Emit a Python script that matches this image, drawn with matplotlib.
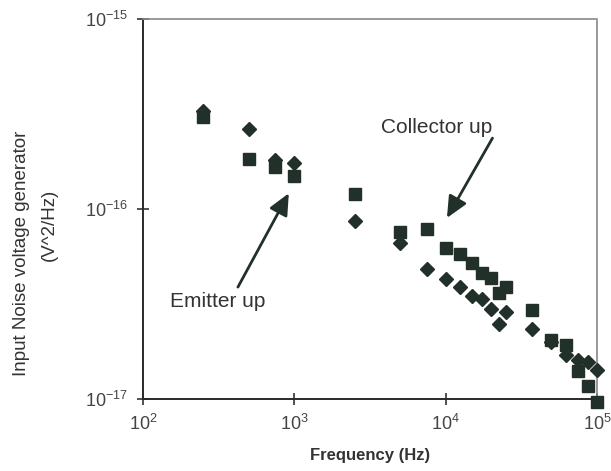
import matplotlib
matplotlib.use("Agg")
import matplotlib.pyplot as plt
from matplotlib.ticker import NullLocator

plt.rcParams['font.family'] = ['Liberation Sans', 'DejaVu Sans']
plt.rcParams['mathtext.default'] = 'regular'

freq = [250, 500, 750, 1000, 2500, 5000, 7500, 10000, 12500, 15000, 17500,
        20000, 22500, 25000, 37500, 50000, 62500, 75000, 87500, 100000]
emitter_up = [3.28e-16, 2.64e-16, 1.81e-16, 1.75e-16, 8.65e-17, 6.62e-17, 4.83e-17,
              4.28e-17, 3.89e-17, 3.48e-17, 3.36e-17, 2.98e-17, 2.48e-17, 2.87e-17,
              2.33e-17, 2.0e-17, 1.70e-17, 1.60e-17, 1.56e-17, 1.42e-17]
collector_up = [3.05e-16, 1.83e-16, 1.66e-16, 1.49e-16, 1.20e-16, 7.57e-17, 7.85e-17,
                6.23e-17, 5.80e-17, 5.20e-17, 4.61e-17, 4.34e-17, 3.61e-17, 3.89e-17,
                2.94e-17, 2.05e-17, 1.92e-17, 1.40e-17, 1.17e-17, 9.64e-18]
x_ticks = [1e2, 1e3, 1e4, 1e5]
y_ticks = [1e-17, 1e-16, 1e-15]

color = '#22302a'

fig = plt.figure(figsize=(6.11, 4.71), dpi=100)
ax = fig.add_axes([0.234, 0.1529, 0.743, 0.8068])
ax.set_xscale('log')
ax.set_yscale('log')
ax.set_xlim(1e2, 1e5)
ax.set_ylim(1e-17, 1e-15)

ax.plot(freq, collector_up, linestyle='none', marker='s', markersize=8.5,
        color=color, clip_on=False, zorder=3)
ax.plot(freq, emitter_up, linestyle='none', marker='D', markersize=7.5,
        color=color, clip_on=False, zorder=3)

ax.set_xticks(x_ticks)
ax.set_yticks(y_ticks)
ax.xaxis.set_minor_locator(NullLocator())
ax.yaxis.set_minor_locator(NullLocator())
ax.set_xticklabels([r'$10^{2}$', r'$10^{3}$', r'$10^{4}$', r'$10^{5}$'])
ax.set_yticklabels([r'$10^{-17}$', r'$10^{-16}$', r'$10^{-15}$'])
ax.tick_params(axis='both', which='major', direction='inout', length=9, width=1.2,
               labelsize=13, colors='#333333', labelcolor='#444444')
ax.tick_params(axis='x', pad=6)
ax.tick_params(axis='y', pad=6)

for s in ['left', 'bottom']:
    ax.spines[s].set_linewidth(1.4)
    ax.spines[s].set_color('#2a2a2a')
for s in ['top', 'right']:
    ax.spines[s].set_linewidth(1.2)
    ax.spines[s].set_color('#888888')
    ax.spines[s].set_linestyle((0, (1, 1)))

ax.set_xlabel('Frequency (Hz)', fontsize=12, fontweight='bold', color='#333333', labelpad=10)

fig.text(0.036, 0.462, 'Input Noise voltage generator', rotation=90, fontsize=13.5,
         color='#333333', ha='center', va='center')
fig.text(0.080, 0.522, '(V^2/Hz)', rotation=90, fontsize=13.5,
         color='#333333', ha='center', va='center')

arrow_style = dict(arrowstyle='-|>,head_length=1.3,head_width=0.6',
                   color=color, lw=2.0, shrinkA=0, shrinkB=0)
ax.annotate('', xy=(1.02e4, 8.97e-17), xytext=(2.04e4, 2.36e-16),
            arrowprops=arrow_style)
ax.text(8.7e3, 2.67e-16, 'Collector up', fontsize=15, color='#333333',
        ha='center', va='center')

ax.annotate('', xy=(920, 1.21e-16), xytext=(424, 3.88e-17),
            arrowprops=arrow_style)
ax.text(313, 3.24e-17, 'Emitter up', fontsize=15, color='#333333',
        ha='center', va='center')

fig.savefig('out.png', dpi=100)
